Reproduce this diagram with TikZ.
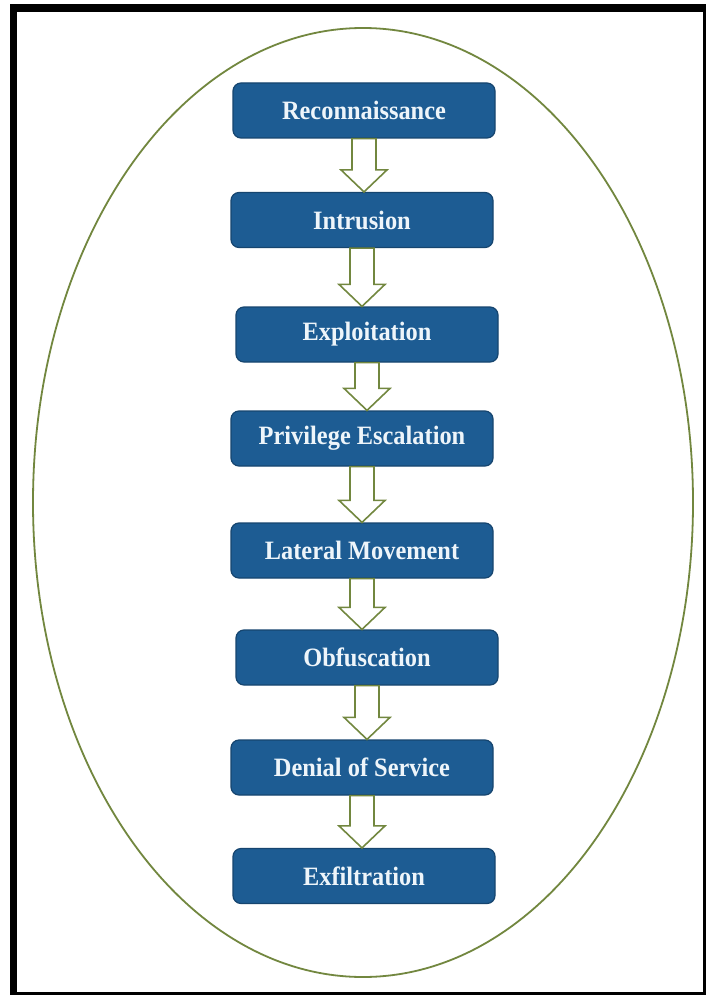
\documentclass[tikz,border=0pt]{standalone}
\usepackage{fontspec}
\setmainfont{Liberation Serif}
\newfontfamily\stagefont[FakeStretch=0.92]{Liberation Serif}
\usetikzlibrary{calc}
\definecolor{stagefill}{HTML}{1D5C93}
\definecolor{stageedge}{HTML}{16456F}
\definecolor{stagetext}{HTML}{EEF5FA}
\definecolor{olive}{HTML}{72873F}
\tikzset{
  stagebox/.style={rectangle, rounded corners=8pt, fill=stagefill, draw=stageedge,
    line width=1.2pt, minimum width=262pt, minimum height=55pt, inner sep=0pt,
    text=stagetext, font=\stagefont\fontsize{26.5}{30}\selectfont\bfseries},
  flowarrow/.style={draw=olive, fill=white, line width=1.6pt, line join=miter},
  frameline/.style={fill=black}
}
% hollow block arrow from the bottom of one stage to the top of the next
\newcommand{\stagearrow}[2]{%
  \draw[flowarrow] ($(#1.south)+(-12,0)$) -- ($(#1.south |- #2.north)+(-12,-22)$)
    -- ($(#1.south |- #2.north)+(-23,-22)$) -- (#1.south |- #2.north)
    -- ($(#1.south |- #2.north)+(23,-22)$) -- ($(#1.south |- #2.north)+(12,-22)$)
    -- ($(#1.south)+(12,0)$) -- cycle;}
\begin{document}
\begin{tikzpicture}[x=1pt,y=-1pt]
  \useasboundingbox (0,0) rectangle (706,995);
  \fill[white] (0,0) rectangle (706,995);
  % outer frame
  \fill[frameline] (10,4) rectangle (17,995);
  \fill[frameline] (10,4) rectangle (706,12);
  \fill[frameline] (10,992) rectangle (706,995);
  \fill[frameline] (703,4) rectangle (706,995);
  % enclosing ellipse
  \draw[olive, line width=1.8pt] (363,502.5) ellipse [x radius=330, y radius=474.5];
  % stages
  \node[stagebox] (recon) at (364,110.5) {Reconnaissance};
  \node[stagebox] (intru) at (362,220)   {Intrusion};
  \node[stagebox] (explo) at (367,334.5) {Exploitation};
  \node[stagebox] (privi) at (362,438.5) {Privilege Escalation};
  \node[stagebox] (later) at (362,550.5) {Lateral Movement};
  \node[stagebox] (obfus) at (367,657.5) {Obfuscation};
  \node[stagebox] (denia) at (362,767.5) {Denial of Service};
  \node[stagebox] (exfil) at (364,876)   {Exfiltration};
  % arrows between stages
  \stagearrow{recon}{intru}
  \stagearrow{intru}{explo}
  \stagearrow{explo}{privi}
  \stagearrow{privi}{later}
  \stagearrow{later}{obfus}
  \stagearrow{obfus}{denia}
  \stagearrow{denia}{exfil}
\end{tikzpicture}
\end{document}
